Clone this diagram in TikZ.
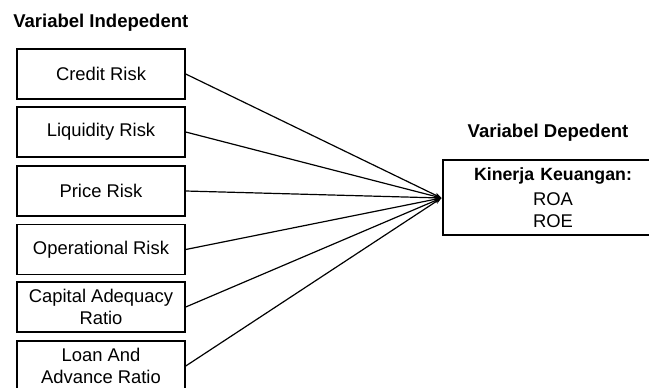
\documentclass[tikz,border=0pt]{standalone}
\usepackage{fontspec}
\setmainfont{Liberation Sans}
\usetikzlibrary{arrows.meta}
\begin{document}
\begin{tikzpicture}[x=0.75pt,y=-0.75pt,
  every node/.style={font=\fontsize{13.8}{16}\selectfont},
  ivbox/.style={draw, line width=1.1pt, minimum width=168*0.75pt, minimum height=50*0.75pt, inner sep=0pt, align=center},
  dvbox/.style={draw, line width=1.1pt, minimum width=220*0.75pt, minimum height=75*0.75pt, inner sep=0pt, align=center},
  ttl/.style={font=\fontsize{13.9}{16}\selectfont\bfseries},
  conn/.style={line width=0.9pt, -{Stealth[length=5pt,width=3.5pt]}}]
\useasboundingbox (0,0) rectangle (649,387);
\clip (0,0) rectangle (649,387);
\node[ttl, anchor=base west, inner sep=0pt] (t1) at (13,27) {Variabel Indepedent};
\node[ttl, anchor=base, inner sep=0pt] (t2) at (548,137) {Variabel Depedent};
\node[ivbox] (b1) at (101,74) {Credit Risk};
\node[ivbox] (b2) at (101,132) {Liquidity Risk};
\node[ivbox] (b3) at (101,191) {Price Risk};
\node[ivbox] (b4) at (101,249.5) {Operational Risk};
\node[ivbox] (b5) at (101,307) {Capital Adequacy\\Ratio};
\node[ivbox] (b6) at (101,366) {Loan And\\Advance Ratio};
\node[dvbox, text width=210*0.75pt] (d) at (553,197.5) {{\fontsize{13.3}{16}\selectfont\bfseries Kinerja Keuangan:}\\[2.5pt]ROA\\[0.5pt]ROE};
\coordinate (tip) at (441.5,198);
\foreach \b in {b1,b2,b3,b4,b5,b6} {
  \draw[conn] (\b.east) -- (tip);
}
\end{tikzpicture}
\end{document}
